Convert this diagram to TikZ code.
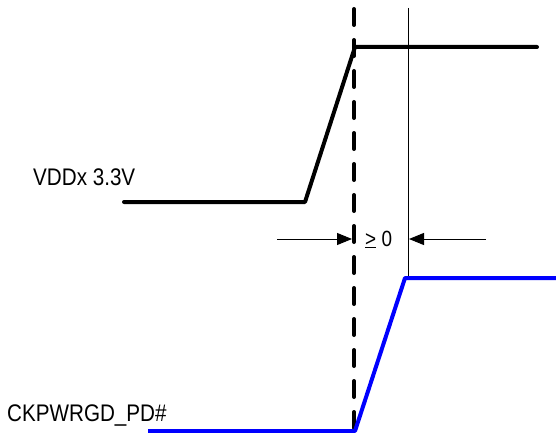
\documentclass[tikz,border=0pt]{standalone}
\usepackage{fontspec}
\setmainfont{Liberation Sans}
\newfontfamily\narrowfont[FakeStretch=0.86]{Liberation Sans}
\usetikzlibrary{arrows.meta}
\begin{document}
\begin{tikzpicture}[x=1pt,y=-1pt,
  signal/.style={line width=4pt,line cap=round,line join=round},
  bluesignal/.style={line width=4pt,draw={rgb,255:red,0;green,0;blue,255},line join=round},
  marker/.style={line width=4pt,line cap=round,dash pattern=on 16pt off 15pt},
  guide/.style={line width=1pt},
  dimarrow/.style={line width=1pt,-{Triangle[length=15pt,width=12pt]}},
  lbl/.style={font=\narrowfont\fontsize{24}{28}\selectfont,inner sep=0pt,anchor=base west},
  dimlbl/.style={font=\narrowfont\fontsize{22}{26}\selectfont,inner sep=0pt,anchor=base west}]
\useasboundingbox (0,0) rectangle (556,433);
% coordinates
\coordinate (dtop) at (354,9);
\coordinate (dbot) at (354,431);
\coordinate (ttop) at (408,8);
\coordinate (tbot) at (408,277);
\coordinate (v0) at (124,202);
\coordinate (v1) at (305,202);
\coordinate (v2) at (355,47);
\coordinate (v3) at (537,47);
\coordinate (b0) at (148,431);
\coordinate (b1) at (355,431);
\coordinate (b2) at (405,278);
\coordinate (b3) at (556,278);
\coordinate (al) at (277,239);
\coordinate (alt) at (352,239);
\coordinate (ar) at (486,239);
\coordinate (art) at (409,239);
% guides
\draw[marker] (dtop) -- (dbot);
\draw[guide] (ttop) -- (tbot);
% signals
\draw[signal] (v0) -- (v1) -- (v2) -- (v3);
\draw[bluesignal] (b0) -- (b1) -- (b2) -- (b3);
% dimension
\draw[dimarrow] (al) -- (alt);
\draw[dimarrow] (ar) -- (art);
\node[dimlbl] (ge) at (365,246) {\underline{>} 0};
% labels
\node[lbl] (vdd) at (33,185) {VDDx 3.3V};
\node[lbl] (ck) at (7,421) {CKPWRGD\_PD\#};
\end{tikzpicture}
\end{document}
